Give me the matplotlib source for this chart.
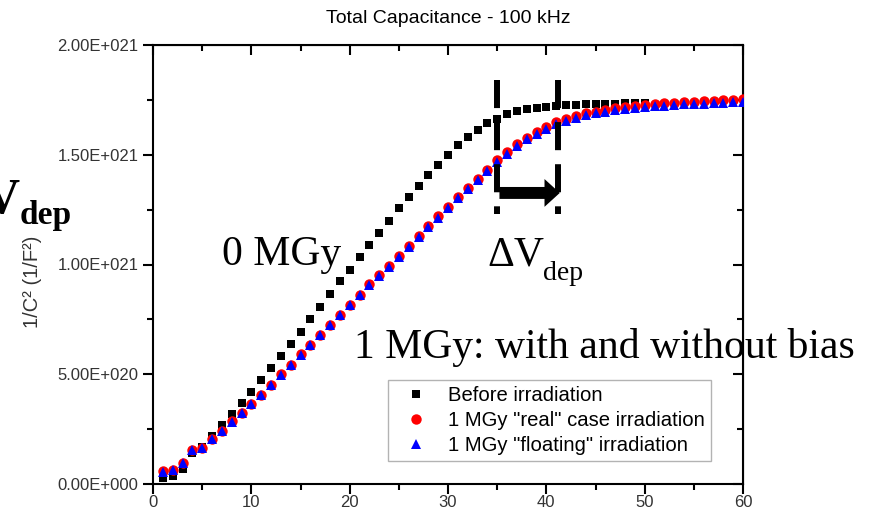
import matplotlib
matplotlib.use("Agg")
import matplotlib.pyplot as plt
from matplotlib.patches import FancyArrowPatch
from matplotlib.ticker import FuncFormatter, MultipleLocator

# bias voltage (V)
volt_before = list(range(1, 51))
volt_after = list(range(1, 61))

# 1/C^2 in units of 1e21 (1/F^2)
before_irr = [0.027, 0.035, 0.070, 0.140, 0.170, 0.220, 0.270, 0.320, 0.370, 0.420,
              0.474, 0.528, 0.583, 0.638, 0.694, 0.752, 0.808, 0.866, 0.923, 0.975,
              1.033, 1.089, 1.145, 1.200, 1.256, 1.306, 1.358, 1.406, 1.455, 1.500,
              1.543, 1.580, 1.613, 1.643, 1.662, 1.685, 1.698, 1.707, 1.713, 1.718,
              1.722, 1.725, 1.727, 1.729, 1.731, 1.732, 1.733, 1.734, 1.735, 1.736]
real_case = [0.058, 0.066, 0.097, 0.157, 0.166, 0.207, 0.243, 0.286, 0.325, 0.366,
             0.407, 0.453, 0.499, 0.544, 0.590, 0.635, 0.681, 0.726, 0.772, 0.817,
             0.863, 0.909, 0.951, 0.992, 1.038, 1.083, 1.129, 1.174, 1.220, 1.262,
             1.308, 1.349, 1.390, 1.432, 1.474, 1.512, 1.547, 1.578, 1.604, 1.628,
             1.648, 1.664, 1.677, 1.688, 1.697, 1.705, 1.712, 1.718, 1.723, 1.727,
             1.731, 1.734, 1.737, 1.740, 1.742, 1.744, 1.746, 1.748, 1.750, 1.752]
floating = [0.055, 0.063, 0.094, 0.154, 0.163, 0.204, 0.240, 0.283, 0.322, 0.363,
            0.404, 0.450, 0.496, 0.541, 0.587, 0.632, 0.678, 0.723, 0.769, 0.814,
            0.860, 0.905, 0.947, 0.988, 1.034, 1.078, 1.124, 1.169, 1.214, 1.256,
            1.302, 1.343, 1.384, 1.425, 1.467, 1.505, 1.539, 1.570, 1.596, 1.619,
            1.639, 1.655, 1.668, 1.679, 1.688, 1.695, 1.702, 1.708, 1.713, 1.717,
            1.721, 1.724, 1.727, 1.729, 1.731, 1.733, 1.735, 1.737, 1.739, 1.741]

labels = ['Before irradiation', '1 MGy "real" case irradiation',
          '1 MGy "floating" irradiation']

# depletion voltage markers (V) and their vertical extent (1e21)
vdep_before = 34.95
vdep_after = 41.15
marker_top = 1.84
marker_bottom = 1.23
arrow_y = 1.326

W, H = 881, 514
plt.rcParams['font.family'] = ['Liberation Sans', 'DejaVu Sans']


def fx(px):
    return px / W


def fy(py):
    return 1 - py / H


fig = plt.figure(figsize=(W / 100, H / 100), dpi=100)
ax = fig.add_axes([fx(153), fy(484), (743 - 153) / W, (484 - 45) / H])

scale = 1e21
ax.plot(volt_before, [v * scale for v in before_irr], 's', color='black', ms=6, mew=0,
        label=labels[0], zorder=3)
ax.plot(volt_after, [v * scale for v in real_case], 'o', color='#ff0000', ms=7.5, mew=0,
        label=labels[1], zorder=4)
ax.plot(volt_after, [v * scale for v in floating], '^', color='#0000ff', ms=7.5, mew=0,
        label=labels[2], zorder=5)

ax.set_xlim(0, 60)
ax.set_ylim(0, 2e21)
ax.xaxis.set_major_locator(MultipleLocator(10))
ax.xaxis.set_minor_locator(MultipleLocator(5))
ax.yaxis.set_major_locator(MultipleLocator(0.5e21))
ax.yaxis.set_minor_locator(MultipleLocator(0.25e21))


def sci(v, pos):
    if v == 0:
        return '0.00E+000'
    exp = 0
    m = v
    while abs(m) >= 10:
        m /= 10
        exp += 1
    return f'{m:.2f}E{exp:+04d}'


ax.yaxis.set_major_formatter(FuncFormatter(sci))

for s in ax.spines.values():
    s.set_linewidth(1.5)
ax.tick_params(which='both', width=1.5, labelsize=12, labelcolor='#333333')
ax.tick_params(which='major', length=7)
ax.tick_params(which='minor', length=4)
ax.tick_params(axis='x', which='major', pad=1)

# inward ticks on top and right
ax2 = ax.secondary_xaxis('top')
ax2.xaxis.set_major_locator(MultipleLocator(10))
ax2.xaxis.set_minor_locator(MultipleLocator(5))
ax2.tick_params(which='both', direction='in', width=1.5, labeltop=False)
ax2.tick_params(which='major', length=7)
ax2.tick_params(which='minor', length=4)
ax3 = ax.secondary_yaxis('right')
ax3.yaxis.set_major_locator(MultipleLocator(0.5e21))
ax3.yaxis.set_minor_locator(MultipleLocator(0.25e21))
ax3.tick_params(which='both', direction='in', width=1.5, labelright=False)
ax3.tick_params(which='major', length=7)
ax3.tick_params(which='minor', length=4)

ax.set_title('Total Capacitance - 100 kHz', fontsize=14, pad=16)

fig.text(fx(33), fy(282), '1/C² (1/F²)', rotation=90, fontsize=14.5, color='#333333',
         ha='center', va='center')

leg = ax.legend(loc='upper left', bbox_to_anchor=(0.398, 0.237), borderaxespad=0,
                fontsize=14.6, frameon=True, fancybox=False, edgecolor='#a0a0a0',
                handlelength=2.2, handletextpad=0.45, borderpad=0.3,
                labelspacing=0.3, markerscale=1.0)
leg.get_frame().set_linewidth(1.0)

# depletion voltage shift marks (dash pattern starts at the top)
for v in (vdep_before, vdep_after):
    ax.plot([v, v], [marker_top * scale, marker_bottom * scale], color='black', lw=4.3,
            ls=(0, (4.7, 2.35)), solid_capstyle='butt', dash_capstyle='butt', zorder=6,
            clip_on=False)
arr = FancyArrowPatch((vdep_before, arrow_y * scale), (vdep_after + 0.5, arrow_y * scale),
                      arrowstyle='simple,head_length=0.55,head_width=1.0,tail_width=0.43',
                      mutation_scale=20, color='black', lw=0, zorder=7)
ax.add_patch(arr)

serif = ['Liberation Serif', 'DejaVu Serif']
fig.text(fx(222), fy(265), '0 MGy', fontsize=30, family=serif, ha='left', va='baseline')
fig.text(fx(487), fy(265), 'ΔV', fontsize=30, family=serif, ha='left', va='baseline')
fig.text(fx(543), fy(280), 'dep', fontsize=20, family=serif, ha='left', va='baseline')
fig.text(fx(354), fy(358), '1 MGy: with and without bias', fontsize=30, family=serif,
         ha='left', va='baseline')
fig.text(fx(20), fy(213), 'V', fontsize=36, family=serif, weight='bold', ha='right',
         va='baseline')
fig.text(fx(20), fy(224), 'dep', fontsize=24, family=serif, weight='bold', ha='left',
         va='baseline')

fig.savefig('out.png', dpi=100)
